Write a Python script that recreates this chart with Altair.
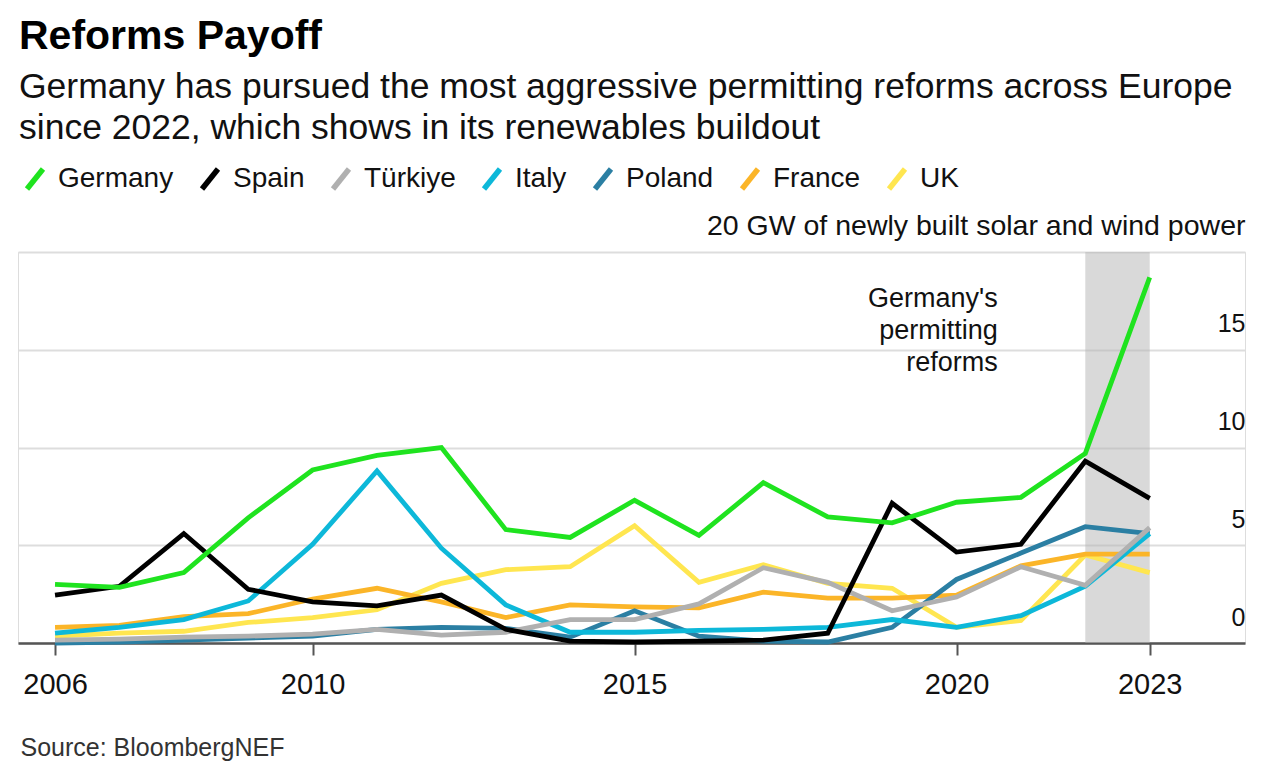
import altair as alt
import pandas as pd

FONT = "Liberation Sans"

years = list(range(2006, 2024))
germany = [3.0, 2.85, 3.6, 6.4, 8.85, 9.6, 10.0, 5.8, 5.4, 7.3, 5.5, 8.2, 6.45, 6.15, 7.2, 7.45, 9.7, 18.7]
spain = [2.45, 2.9, 5.6, 2.75, 2.1, 1.9, 2.45, 0.7, 0.1, 0.05, 0.1, 0.15, 0.5, 7.15, 4.65, 5.05, 9.3, 7.4]
turkiye = [0.15, 0.2, 0.3, 0.35, 0.45, 0.7, 0.4, 0.55, 1.2, 1.2, 2.0, 3.85, 3.1, 1.65, 2.35, 3.9, 2.95, 5.9]
italy = [0.5, 0.8, 1.2, 2.15, 5.05, 8.8, 4.85, 1.95, 0.55, 0.55, 0.65, 0.7, 0.8, 1.2, 0.8, 1.4, 2.9, 5.6]
poland = [0.0, 0.05, 0.15, 0.25, 0.35, 0.7, 0.8, 0.75, 0.3, 1.65, 0.35, 0.1, 0.05, 0.8, 3.25, 4.6, 5.95, 5.6]
france = [0.8, 0.9, 1.35, 1.5, 2.25, 2.8, 2.1, 1.3, 1.95, 1.85, 1.8, 2.6, 2.3, 2.3, 2.45, 3.95, 4.55, 4.55]
uk = [0.35, 0.5, 0.6, 1.05, 1.3, 1.7, 3.05, 3.75, 3.9, 6.0, 3.1, 4.0, 3.05, 2.8, 0.8, 1.15, 4.5, 3.6]

countries = ["Germany", "Spain", "Türkiye", "Italy", "Poland", "France", "UK"]
colors = ["#1fe31f", "#000000", "#b0b0b0", "#0db8d9", "#2b7fa3", "#fbb528", "#ffe650"]
draw_order = ["UK", "France", "Poland", "Italy", "Türkiye", "Spain", "Germany"]

series = {"Germany": germany, "Spain": spain, "Türkiye": turkiye, "Italy": italy,
          "Poland": poland, "France": france, "UK": uk}

x_ticks = [2006, 2010, 2015, 2020, 2023]
y_ticks = [0, 5, 10, 15, 20]
shade_start, shade_end = [2022], [2023]
note_text = ["Germany's\npermitting\nreforms"]

rows = []
for c in draw_order:
    for yr, v in zip(years, series[c]):
        rows.append({"year": yr, "country": c, "value": v})
df = pd.DataFrame(rows)

x_scale = alt.Scale(domain=[2005.425, 2024.48], nice=False, zero=False)
y_scale = alt.Scale(domain=[0, 20], nice=False, zero=True)

x_axis = alt.Axis(
    values=x_ticks, format="d", grid=False, domain=True, domainColor="#555555", domainWidth=2.5,
    ticks=True, tickColor="#555555", tickWidth=2, tickSize=12,
    labelFont=FONT, labelFontSize=29, labelColor="#111111", labelPadding=15, labelFlush=False,
    labelOverlap=False,
    title="Source: BloombergNEF", titleFont=FONT, titleFontSize=25, titleFontWeight="normal",
    titleColor="#333333", titleX=2, titleY=112, titleAlign="left", titleBaseline="alphabetic",
    titleAnchor="start",
)
y_axis = alt.Axis(
    orient="right", values=y_ticks, grid=True, gridColor="#dddddd", gridWidth=2,
    domain=False, ticks=False, tickSize=0,
    labelFont=FONT, labelColor="#111111", labelAlign="right", labelBaseline="alphabetic",
    labelOffset=-18, labelPadding=0, labelLimit=0, labelOverlap=False, labelBound=False,
    labelFlush=False,
    labelFontSize={"condition": {"test": "datum.value == 20", "value": 28.5}, "value": 25},
    labelExpr="datum.value == 20 ? '20 GW of newly built solar and wind power' : datum.label",
    title=None,
)

shade = alt.Chart(pd.DataFrame({"start": shade_start, "end": shade_end, "lo": [0], "hi": [20]})).mark_rect(
    color="#b4b4b4", opacity=0.5
).encode(
    x=alt.X("start:Q", scale=x_scale, axis=x_axis),
    x2="end:Q",
    y=alt.Y("lo:Q", scale=y_scale, axis=y_axis),
    y2="hi:Q",
)

lines = alt.Chart(df).mark_line(strokeWidth=4.8).encode(
    x=alt.X("year:Q", scale=x_scale, axis=x_axis),
    y=alt.Y("value:Q", scale=y_scale, axis=y_axis),
    color=alt.Color(
        "country:N",
        scale=alt.Scale(domain=countries, range=colors),
        legend=alt.Legend(
            title=None, orient="none", legendX=3, legendY=-87, direction="horizontal",
            symbolType="M-0.8,1L0.8,-1", symbolSize=400, symbolStrokeWidth=5.5,
            labelFont=FONT, labelFontSize=28, labelColor="#111111", labelOffset=9,
            columnPadding=17, labelLimit=0,
        ),
    ),
)

note = alt.Chart(pd.DataFrame({"x": [2020.64], "y": [18.25], "t": note_text})).mark_text(
    align="right", baseline="top", lineBreak="\n", fontSize=27, lineHeight=32, font=FONT, color="#111111"
).encode(
    x=alt.X("x:Q", scale=x_scale, axis=x_axis),
    y=alt.Y("y:Q", scale=y_scale, axis=y_axis),
    text="t:N",
)

chart = alt.layer(shade, lines, note).properties(
    width=1227,
    height=391,
    autosize=alt.AutoSizeParams(type="none"),
    padding={"left": 10, "top": 244, "right": 24, "bottom": 130},
    title=alt.TitleParams(
        text="Reforms Payoff",
        subtitle=["Germany has pursued the most aggressive permitting reforms across Europe",
                  "since 2022, which shows in its renewables buildout"],
        anchor="start", frame="group", dx=1, offset=18,
        font=FONT, fontSize=41, fontWeight="bold", color="#000000",
        subtitleFont=FONT, subtitleFontSize=35.5, subtitleColor="#111111", subtitleLineHeight=41,
        subtitlePadding=12,
    ),
).configure_view(stroke=None).configure(background="white")

chart.save("out.html", embed_options={"renderer": "svg", "actions": False})
